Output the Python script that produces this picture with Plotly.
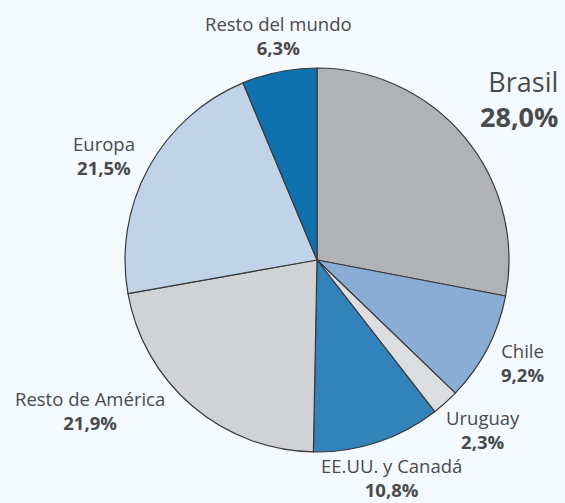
import plotly.graph_objects as go

# Data
labels = ["Brasil", "Chile", "Uruguay", "EE.UU. y Canadá", "Resto de América", "Europa", "Resto del mundo"]
values = [28.0, 9.2, 2.3, 10.8, 21.9, 21.5, 6.3]
pct_text = ["28,0%", "9,2%", "2,3%", "10,8%", "21,9%", "21,5%", "6,3%"]

# Styles
colors = ["#b1b2b5", "#89add5", "#dcdde0", "#3383bb", "#d1d2d5", "#c0d3e8", "#0f71ad"]
W, H = 565, 503
# label layout in pixels: x, y-center of the two-line block, anchor, font size
label_pos = [
    (559, 99, "right", 27),
    (522, 362, "center", 18.5),
    (483, 429, "center", 18.5),
    (391, 477, "center", 18.5),
    (90, 410, "center", 18.5),
    (104, 156, "center", 18.5),
    (278, 35, "center", 18.5),
]

cx, cy, r = 317, 260, 192

fig = go.Figure(go.Pie(
    labels=labels,
    values=values,
    sort=False,
    direction="clockwise",
    rotation=0,
    marker=dict(colors=colors, line=dict(color="#3a3a3a", width=1.2)),
    textinfo="none",
    hoverinfo="label+percent",
    domain=dict(x=[(cx - r) / W, (cx + r) / W], y=[(H - cy - r) / H, (H - cy + r) / H]),
    showlegend=False,
))

annotations = []
for lab, pct, (x, y, anc, fs) in zip(labels, pct_text, label_pos):
    annotations.append(dict(
        x=x / W, y=1 - y / H, xref="paper", yref="paper",
        xanchor=anc, yanchor="middle", align=anc, borderpad=0,
        text=f"{lab}<br><b>{pct}</b>", showarrow=False,
        font=dict(family="Open Sans", size=fs, color="#4a4a4c"),
    ))

fig.update_layout(
    width=W, height=H,
    margin=dict(l=0, r=0, t=0, b=0),
    paper_bgcolor="#f3f9fd",
    plot_bgcolor="#f3f9fd",
    annotations=annotations,
)

fig.write_html(
    "out.html",
    config={"displayModeBar": False},
    post_script="document.body.style.margin='0';document.body.style.padding='0';document.body.style.overflow='hidden';document.body.style.background='#f3f9fd';",
)
